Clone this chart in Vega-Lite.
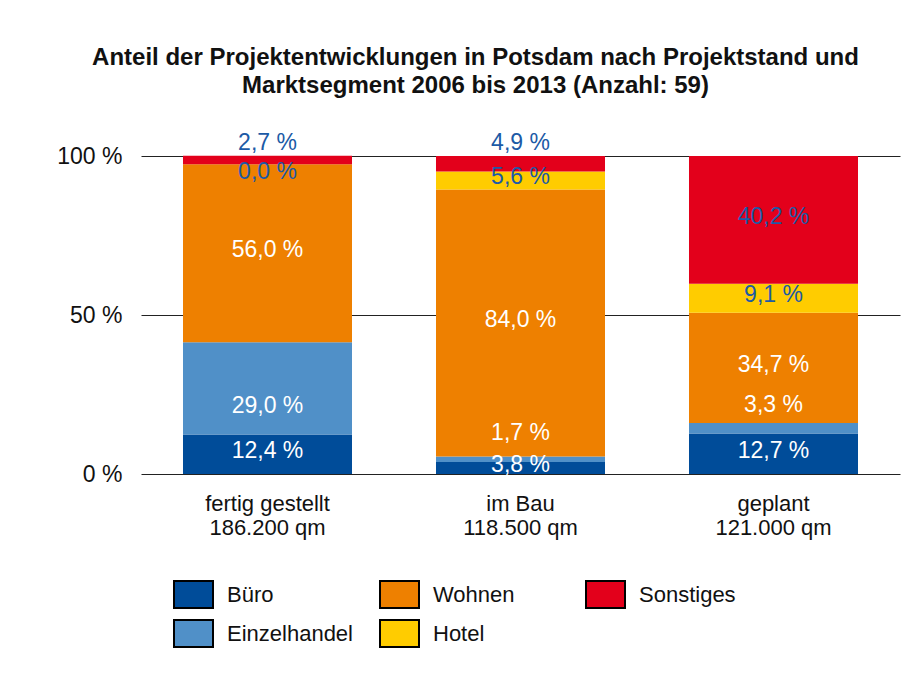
{
  "$schema": "https://vega.github.io/schema/vega-lite/v6.json",
  "width": 759,
  "height": 318,
  "autosize": {"type": "none"},
  "padding": {"left": 141, "top": 156, "right": 19, "bottom": 205},
  "background": "white",
  "config": {
    "font": "Liberation Sans",
    "view": {"stroke": null},
    "axis": {"labelFont": "Liberation Sans", "labelColor": "#111"}
  },
  "title": {
    "text": ["Anteil der Projektentwicklungen in Potsdam nach Projektstand und", "Marktsegment 2006 bis 2013 (Anzahl: 59)"],
    "font": "Liberation Sans",
    "fontSize": 24,
    "fontWeight": "bold",
    "lineHeight": 28,
    "color": "#111",
    "anchor": "middle",
    "dx": -45,
    "offset": 34
  },
  "data": {
    "values": [
      {"stand": "fertig gestellt|186.200 qm", "segment": "Büro", "value": 12.4},
      {"stand": "fertig gestellt|186.200 qm", "segment": "Einzelhandel", "value": 29.0},
      {"stand": "fertig gestellt|186.200 qm", "segment": "Wohnen", "value": 56.0},
      {"stand": "fertig gestellt|186.200 qm", "segment": "Hotel", "value": 0.0},
      {"stand": "fertig gestellt|186.200 qm", "segment": "Sonstiges", "value": 2.7},
      {"stand": "im Bau|118.500 qm", "segment": "Büro", "value": 3.8},
      {"stand": "im Bau|118.500 qm", "segment": "Einzelhandel", "value": 1.7},
      {"stand": "im Bau|118.500 qm", "segment": "Wohnen", "value": 84.0},
      {"stand": "im Bau|118.500 qm", "segment": "Hotel", "value": 5.6},
      {"stand": "im Bau|118.500 qm", "segment": "Sonstiges", "value": 4.9},
      {"stand": "geplant|121.000 qm", "segment": "Büro", "value": 12.7},
      {"stand": "geplant|121.000 qm", "segment": "Einzelhandel", "value": 3.3},
      {"stand": "geplant|121.000 qm", "segment": "Wohnen", "value": 34.7},
      {"stand": "geplant|121.000 qm", "segment": "Hotel", "value": 9.1},
      {"stand": "geplant|121.000 qm", "segment": "Sonstiges", "value": 40.2}
    ]
  },
  "transform": [
    {"calculate": "indexof(['Büro','Einzelhandel','Wohnen','Hotel','Sonstiges'], datum.segment)", "as": "rank"},
    {"stack": "value", "groupby": ["stand"], "sort": [{"field": "rank", "order": "ascending"}], "as": ["y0", "y1"]},
    {"calculate": "datum.segment === 'Einzelhandel' ? datum.y0 + 9 : (datum.segment === 'Sonstiges' && datum.value < 5) ? 104 : (datum.value === 0 ? datum.y0 - 2.5 : (datum.y0 + datum.y1) / 2 + 1)", "as": "ly"},
    {"calculate": "replace(format(datum.value, '.1f'), '.', ',') + ' %'", "as": "txt"}
  ],
  "encoding": {
    "x": {
      "field": "stand",
      "type": "nominal",
      "sort": null,
      "scale": {"paddingInner": 0.332, "paddingOuter": 0.166},
      "axis": {
        "title": null,
        "labelAngle": 0,
        "labelExpr": "split(datum.label, '|')",
        "labelFontSize": 22,
        "labelLineHeight": 24,
        "labelPadding": 19,
        "domain": false,
        "ticks": false
      }
    }
  },
  "layer": [
    {
      "mark": {"type": "bar"},
      "encoding": {
        "y": {
          "field": "y0",
          "type": "quantitative",
          "scale": {"domain": [0, 100], "nice": false},
          "axis": {
            "title": null,
            "values": [0, 50, 100],
            "labelExpr": "datum.value + ' %'",
            "labelFontSize": 23,
            "labelPadding": 19,
            "domain": false,
            "ticks": false,
            "grid": true,
            "gridColor": "#222",
            "gridWidth": 1,
            "gridOpacity": 1
          }
        },
        "y2": {"field": "y1"},
        "color": {
          "field": "segment",
          "type": "nominal",
          "scale": {
            "domain": ["Büro", "Einzelhandel", "Wohnen", "Hotel", "Sonstiges"],
            "range": ["#004c99", "#5090c8", "#ee8000", "#ffcc00", "#e3001b"]
          },
          "legend": {
            "title": null,
            "orient": "none",
            "legendX": 32,
            "legendY": 418,
            "padding": 0,
            "columns": 3,
            "gridAlign": "all",
            "columnPadding": 23,
            "rowPadding": 1,
            "symbolType": "M-1,-0.69H1V0.69H-1Z",
            "symbolSize": 1521,
            "symbolStrokeColor": "#000",
            "symbolStrokeWidth": 2,
            "symbolOpacity": 1,
            "labelFont": "Liberation Sans",
            "labelFontSize": 22,
            "labelColor": "#111",
            "labelOffset": 13
          }
        },
        "order": {"field": "rank", "type": "quantitative"}
      }
    },
    {
      "mark": {"type": "text", "fontSize": 23, "font": "Liberation Sans", "baseline": "middle", "align": "center"},
      "encoding": {
        "y": {"field": "ly", "type": "quantitative"},
        "text": {"field": "txt"},
        "color": {
          "condition": {"test": "datum.segment === 'Hotel' || datum.segment === 'Sonstiges'", "value": "#1c5aa6"},
          "value": "#ffffff"
        }
      }
    }
  ]
}
